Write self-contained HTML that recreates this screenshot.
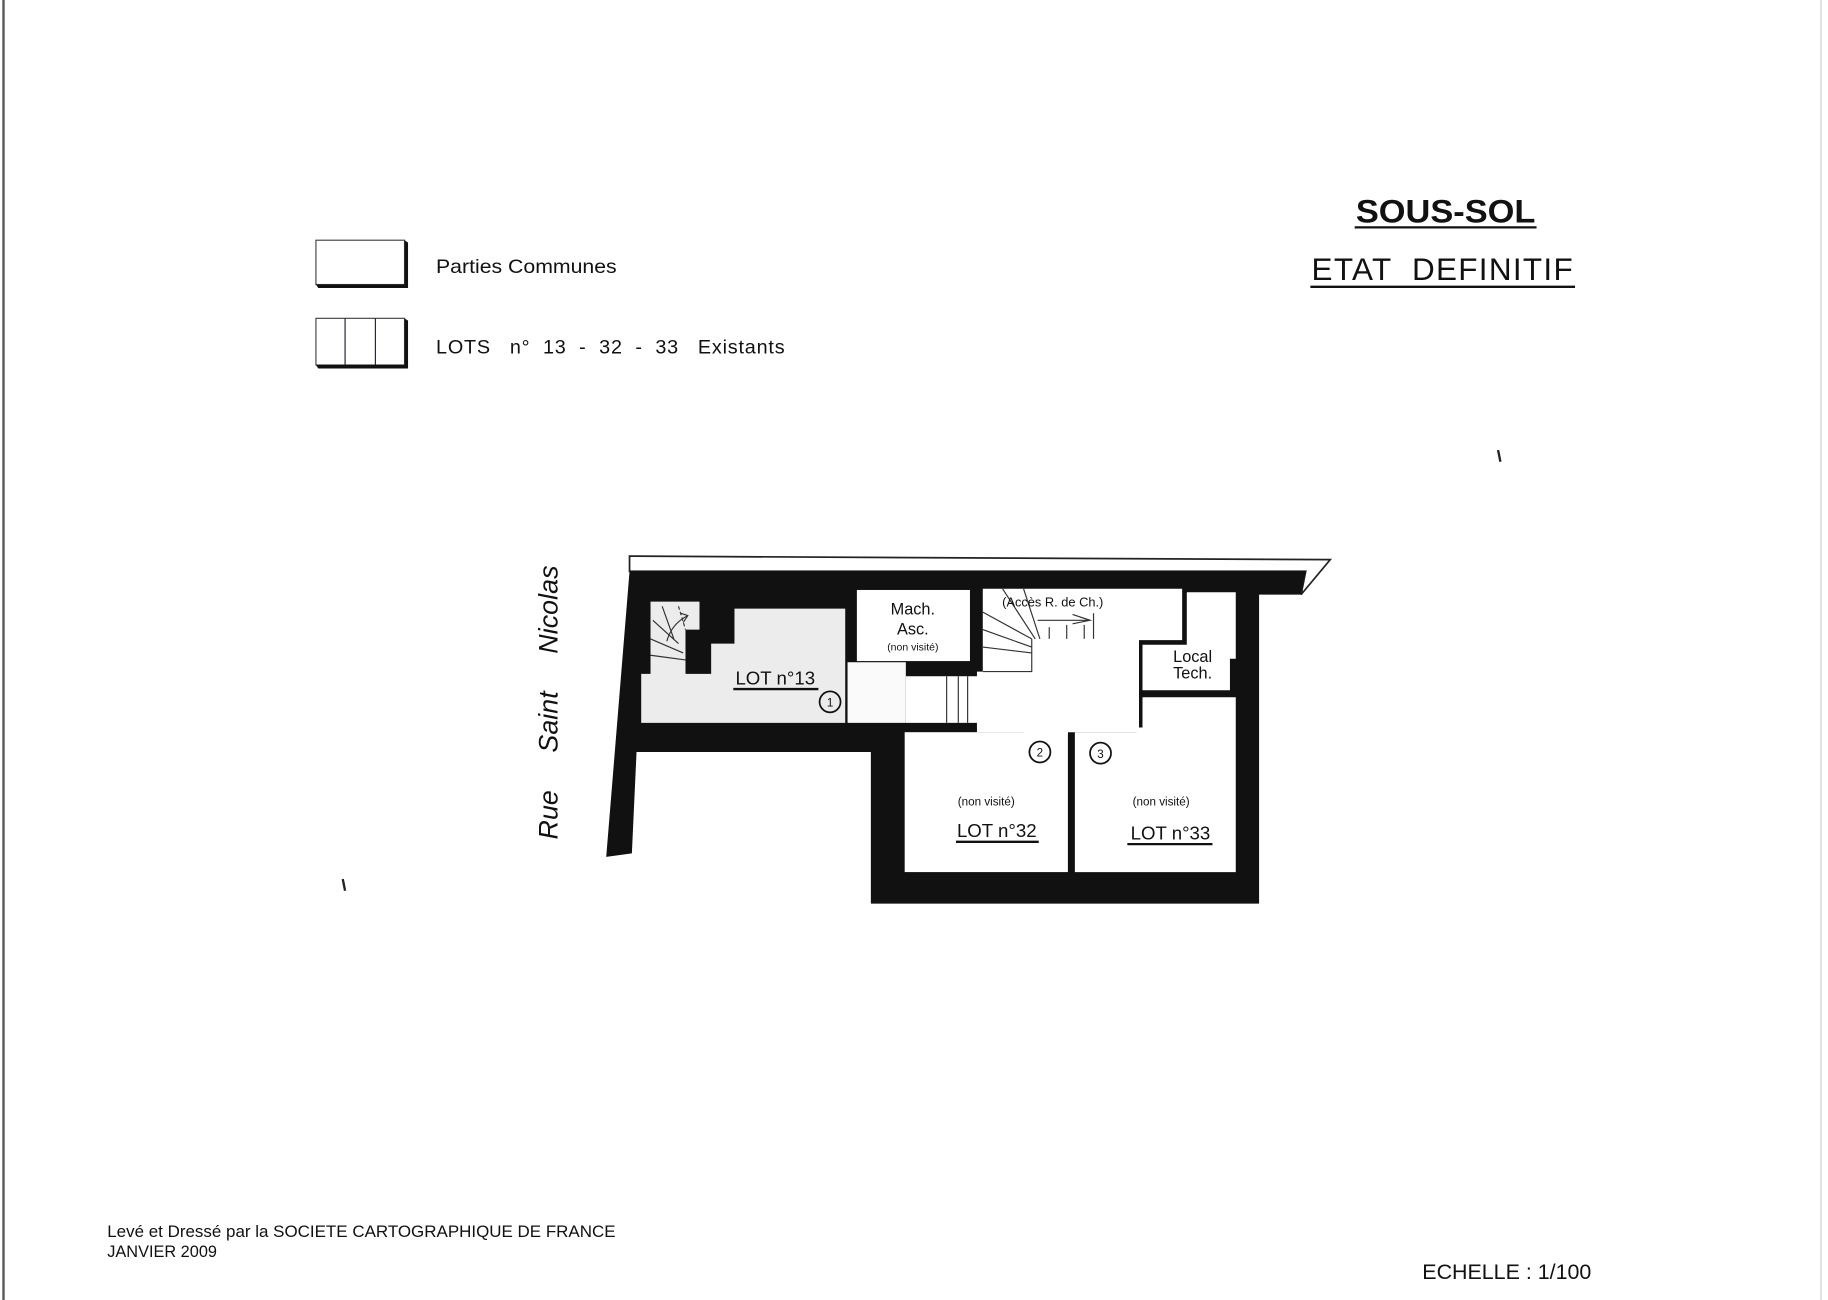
<!DOCTYPE html>
<html><head><meta charset="utf-8"><style>
html,body{margin:0;padding:0;background:#fff;width:1828px;height:1300px;overflow:hidden}
svg{display:block}
text{font-family:"Liberation Sans",Arial,sans-serif;fill:#111}
</style></head><body>
<svg width="1828" height="1300" viewBox="0 0 1568 1115" xmlns="http://www.w3.org/2000/svg">
<rect width="1568" height="1115" fill="#fff"/>
<line x1="3" y1="0" x2="3" y2="1115" stroke="#555" stroke-width="2"/>
<line x1="1562" y1="0" x2="1562" y2="1115" stroke="#ccc" stroke-width="1"/>

<!-- legend -->
<rect x="271" y="206" width="76" height="38" fill="#fff" stroke="#444" stroke-width="1"/>
<path d="M347 206 L350 208 L350 247 L273 247 L271 244 L347 244 Z" fill="#111"/>
<text x="374" y="234" font-size="17" textLength="155" lengthAdjust="spacingAndGlyphs">Parties Communes</text>
<rect x="271" y="273" width="76" height="40" fill="#fff" stroke="#444" stroke-width="1"/>
<line x1="296" y1="273" x2="296" y2="313" stroke="#223" stroke-width="1"/>
<line x1="322" y1="273" x2="322" y2="313" stroke="#223" stroke-width="1"/>
<path d="M347 273 L350 275 L350 316 L273 316 L271 313 L347 313 Z" fill="#111"/>
<text x="374" y="303" font-size="17" xml:space="preserve" textLength="299" lengthAdjust="spacing">LOTS   n°  13  -  32  -  33   Existants</text>

<!-- title -->
<text x="1163" y="191" font-size="28" font-weight="bold" textLength="154" lengthAdjust="spacingAndGlyphs">SOUS-SOL</text>
<line x1="1162" y1="195" x2="1318" y2="195" stroke="#111" stroke-width="2"/>
<text x="1125" y="240" font-size="27" xml:space="preserve" textLength="224" lengthAdjust="spacing">ETAT  DEFINITIF</text>
<line x1="1124" y1="246" x2="1351" y2="246" stroke="#111" stroke-width="2"/>

<!-- street -->
<text transform="translate(478,720) rotate(-90)" font-size="23" font-style="italic" xml:space="preserve" textLength="235" lengthAdjust="spacing">Rue     Saint     Nicolas</text>

<!-- plan: top strip -->
<path d="M540 477 L1141 480 L1116 510 L1120 490 L540 490 Z" fill="#fff" stroke="#222" stroke-width="1.5"/>
<!-- black mass -->
<path d="M540 490 L1120 490 L1116 510 L1080 510 L1080 775 L747 775 L747 645 L546 645 L542 732 L520 735 Z" fill="#111"/>
<!-- lot 13 -->
<path d="M558 516 L600 516 L600 540 L588 540 L588 578 L610 578 L610 552 L630 552 L630 522 L725 522 L725 620 L550 620 L550 578 L558 578 Z" fill="#ececec"/>
<path d="M568 520 L578 548 M560 532 L582 552 M558 548 L586 560 M558 562 L588 566" stroke="#333" stroke-width="1" fill="none"/>
<path d="M582 520 L588 540" stroke="#333" stroke-width="1" stroke-dasharray="3,2"/>
<path d="M572 550 Q576 535 590 528" stroke="#333" fill="none"/>
<path d="M584 526 L590 528 L586 534" stroke="#333" fill="none"/>
<text x="665" y="587" font-size="16" text-anchor="middle">LOT n°13</text>
<line x1="629" y1="591" x2="702" y2="591" stroke="#111" stroke-width="2"/>
<circle cx="712" cy="602" r="9" fill="none" stroke="#111" stroke-width="1.5"/>
<text x="712" y="606" font-size="10" text-anchor="middle">1</text>
<!-- corridor -->
<rect x="727" y="568" width="50" height="52" fill="#fafafa"/>
<!-- mach asc -->
<rect x="735" y="506" width="97" height="61" fill="#fff"/>
<text x="783" y="527" font-size="14" text-anchor="middle">Mach.</text>
<text x="783" y="544" font-size="14" text-anchor="middle">Asc.</text>
<text x="783" y="558" font-size="9" text-anchor="middle">(non visité)</text>
<!-- stairs lower -->
<rect x="777" y="580" width="62" height="40" fill="#fff"/>
<path d="M812 580 V620 M822 580 V620 M830 580 V620" stroke="#333"/>
<!-- hall -->
<path d="M838 628 L838 576 L843 576 L843 505 L1014 505 L1014 549 L977 549 L977 628 Z" fill="#fff"/>
<path d="M885 548 L885 576 L843 576 M843 525 L885 548 M843 540 L885 555 M843 555 L885 560 M860 505 L888 548 M878 505 L892 548" stroke="#333" fill="none"/>
<path d="M900 548 V538 M915 548 V536 M930 548 V536 M938 548 V526" stroke="#333"/>
<text x="903" y="520" font-size="11" text-anchor="middle">(Accès  R. de Ch.)</text>
<path d="M890 532 L935 532 M920 527 L935 532 L920 535" stroke="#333" fill="none"/>
<!-- local tech -->
<path d="M1018 508 L1060 508 L1060 565 L1055 565 L1055 592 L980 592 L980 553 L1018 553 Z" fill="#fff"/>
<text x="1023" y="568" font-size="14" text-anchor="middle">Local</text>
<text x="1023" y="582" font-size="14" text-anchor="middle">Tech.</text>
<!-- lot 32 -->
<rect x="776" y="628" width="140" height="120" fill="#fff"/>
<rect x="878" y="622" width="38" height="8" fill="#fff"/>
<circle cx="892" cy="645" r="9" fill="none" stroke="#111" stroke-width="1.5"/>
<text x="892" y="649" font-size="10" text-anchor="middle">2</text>
<text x="846" y="691" font-size="10" text-anchor="middle">(non visité)</text>
<text x="855" y="718" font-size="16" text-anchor="middle">LOT n°32</text>
<line x1="820" y1="722" x2="891" y2="722" stroke="#111" stroke-width="2"/>
<!-- lot 33 -->
<path d="M922 628 L922 748 L1060 748 L1060 598 L980 598 L980 624 L975 624 L975 628 Z" fill="#fff"/>
<circle cx="944" cy="646" r="9" fill="none" stroke="#111" stroke-width="1.5"/>
<text x="944" y="650" font-size="10" text-anchor="middle">3</text>
<text x="996" y="691" font-size="10" text-anchor="middle">(non visité)</text>
<text x="1004" y="720" font-size="16" text-anchor="middle">LOT n°33</text>
<line x1="967" y1="724" x2="1040" y2="724" stroke="#111" stroke-width="2"/>

<!-- specks -->
<path d="M294 754 L296 764 M1285 386 L1287 396" stroke="#222" stroke-width="2"/>

<!-- footer -->
<text x="92" y="1061" font-size="14" textLength="436" lengthAdjust="spacingAndGlyphs">Levé et Dressé par la SOCIETE CARTOGRAPHIQUE DE FRANCE</text>
<text x="92" y="1078" font-size="14">JANVIER 2009</text>
<text x="1220" y="1097" font-size="18" textLength="145" lengthAdjust="spacingAndGlyphs">ECHELLE : 1/100</text>
</svg>
</body></html>
